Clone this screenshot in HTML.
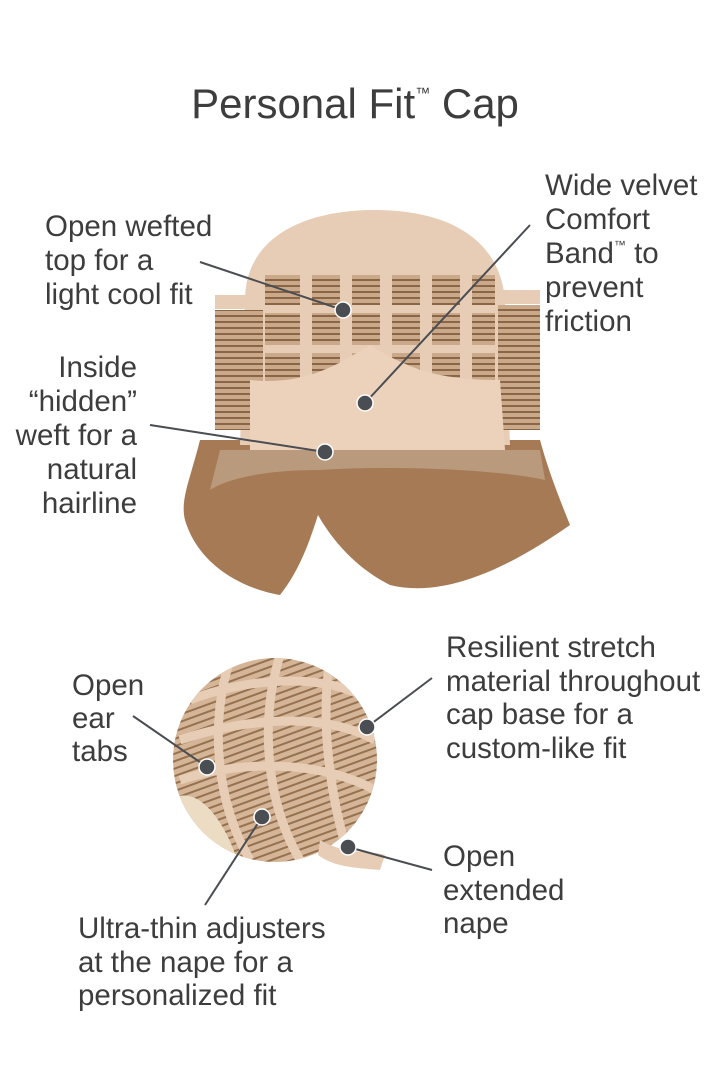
<!DOCTYPE html>
<html><head><meta charset="utf-8"><style>
html,body{margin:0;padding:0;background:#fff}
body{width:720px;height:1080px;position:relative;overflow:hidden;font-family:"Liberation Sans",sans-serif;color:#3d3d3d}
.t{position:absolute;font-size:29.5px;line-height:34px;white-space:nowrap}
sup{line-height:0}
</style></head><body>
<svg width="720" height="1080" style="position:absolute;left:0;top:0">
<defs>
<pattern id="w" width="14" height="6" patternUnits="userSpaceOnUse"><rect width="14" height="6" fill="#c9a98a"/><rect y="3" width="14" height="2" fill="#8a6647"/></pattern>
<pattern id="w2" width="10" height="7" patternUnits="userSpaceOnUse" patternTransform="rotate(-20)"><rect width="10" height="7" fill="#d4b597"/><rect y="4" width="10" height="2" fill="#96714f"/></pattern>
<clipPath id="c2"><circle cx="275" cy="760" r="102"/></clipPath>
</defs>
<path d="M200 440 C190 480 180 500 185 520 C200 570 250 590 280 595 C300 570 310 540 318 515 C335 545 360 570 390 585 C450 600 520 560 570 525 C560 500 548 470 540 440 Z" fill="#a57a55"/>
<path d="M220 450 L540 450 L545 480 C500 470 400 465 320 470 C260 470 225 480 210 490 Z" fill="#b99a7c"/>
<path d="M245 300 C245 240 300 210 375 210 C450 210 500 240 505 300 L510 445 L240 445 Z" fill="#e7cdb5"/>
<rect x="265" y="265" width="230" height="130" fill="url(#w)"/>
<g fill="#e7cdb5">
<rect x="265" y="265" width="230" height="10"/>
<rect x="300" y="255" width="12" height="140"/><rect x="340" y="255" width="12" height="140"/><rect x="380" y="245" width="12" height="150"/><rect x="420" y="255" width="12" height="140"/><rect x="460" y="265" width="12" height="130"/>
<rect x="265" y="305" width="230" height="8"/><rect x="265" y="345" width="230" height="8"/>
<rect x="215" y="295" width="50" height="14"/><rect x="495" y="290" width="45" height="14"/>
</g>
<rect x="215" y="310" width="48" height="120" fill="url(#w)"/>
<rect x="498" y="305" width="42" height="125" fill="url(#w)"/>
<path d="M250 380 C300 385 330 370 370 345 C410 370 440 380 500 380 L505 450 L250 450 Z" fill="#ecd2bb"/>
<g clip-path="url(#c2)">
<rect x="170" y="655" width="210" height="210" fill="url(#w2)"/>
<path d="M170 800 C200 780 230 830 240 870 L170 870 Z" fill="#ecdcc4"/>
<g stroke="#e7cdb5" stroke-width="9" fill="none">
<path d="M190 700 C240 680 320 670 370 700"/><path d="M180 740 C240 720 320 710 375 740"/><path d="M180 780 C240 760 320 760 375 790"/>
<path d="M230 660 C210 720 215 800 250 860"/><path d="M280 655 C260 720 265 800 300 860"/><path d="M330 660 C320 720 330 800 350 860"/>
</g>
</g>
<path d="M320 840 C345 855 370 850 385 855 L380 870 C360 868 335 868 318 855 Z" fill="#e7cdb5"/>
<g stroke="#4a4d52" stroke-width="2" fill="none">
<line x1="200" y1="262" x2="343" y2="310"/>
<line x1="530" y1="225" x2="365" y2="403"/>
<line x1="150" y1="425" x2="325" y2="452"/>
<line x1="133" y1="716" x2="207" y2="767"/>
<line x1="205" y1="905" x2="262" y2="817"/>
<line x1="432" y1="678" x2="367" y2="727"/>
<line x1="432" y1="870" x2="348" y2="847"/>
</g>
<g fill="#4a4d52" stroke="#fff" stroke-width="1.5">
<circle cx="343" cy="310" r="8"/><circle cx="365" cy="403" r="8"/><circle cx="325" cy="452" r="8"/>
<circle cx="207" cy="767" r="8"/><circle cx="262" cy="817" r="8"/><circle cx="367" cy="727" r="8"/><circle cx="348" cy="847" r="8"/>
</g>
</svg>
<div class="t" style="left:0;width:710px;text-align:center;top:80px;font-size:42px;line-height:48px">Personal Fit<sup style="font-size:15px;vertical-align:20px">™</sup> Cap</div>
<div class="t" style="left:45px;top:210px">Open wefted<br>top for a<br>light cool fit</div>
<div class="t" style="left:545px;top:169px">Wide velvet<br>Comfort<br>Band<sup style="font-size:12px;vertical-align:14px">™</sup> to<br>prevent<br>friction</div>
<div class="t" style="left:0;width:137px;text-align:right;top:351px">Inside<br>“hidden”<br>weft for a<br>natural<br>hairline</div>
<div class="t" style="left:72px;top:669px;line-height:33px">Open<br>ear<br>tabs</div>
<div class="t" style="left:446px;top:631px;line-height:33.5px">Resilient stretch<br>material throughout<br>cap base for a<br>custom-like fit</div>
<div class="t" style="left:443px;top:840px;line-height:33.5px">Open<br>extended<br>nape</div>
<div class="t" style="left:78px;top:912px;line-height:33.5px">Ultra-thin adjusters<br>at the nape for a<br>personalized fit</div>
</body></html>
